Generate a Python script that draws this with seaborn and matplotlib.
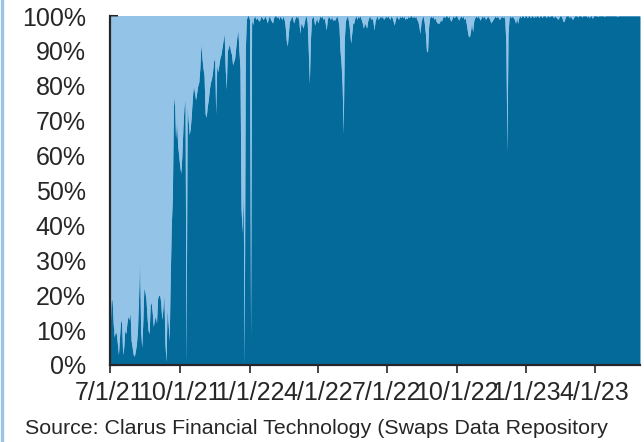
import numpy as np
import pandas as pd
import matplotlib
matplotlib.use("Agg")
import matplotlib.pyplot as plt
from matplotlib.lines import Line2D
import seaborn as sns

# Share (%) of the dark series, read per ~business day, one list per quarter
share_q3_2021 = [8, 18, 19, 12, 8, 9.5, 9, 6, 3, 8, 13, 12, 3, 5, 10, 9, 12, 14, 13, 15,
                 7, 5, 3, 2.5, 4, 6, 10, 19, 30, 10, 5, 12, 22, 21, 19, 14, 10, 9, 17, 18,
                 15, 11, 13, 14, 12, 19, 20, 20, 18, 13, 16, 20, 6, 1, 16, 12, 7, 25, 40, 48,
                 74, 77, 65, 70, 63, 60]
share_q4_2021 = [57, 55, 60, 68, 74, 76, 0, 74, 70, 66, 68, 72, 77, 80, 78, 76, 78, 80, 81, 85,
                 92, 88, 85, 83, 72, 71, 74, 76, 79, 81, 82, 84, 87, 88, 72, 86, 84, 86, 88, 89,
                 91, 93, 95, 85, 79, 90, 91, 92, 90, 89, 86, 87, 88, 91, 94, 96, 90, 85, 45, 38,
                 50, 0, 90, 99, 100, 100]
share_q1_2022 = [99, 8, 99, 97.5, 99.5, 100, 99, 99.5, 99, 98.5, 99, 100, 99.5, 99, 99.5, 100,
                 99, 98, 99.5, 100, 99, 98.5, 98, 99.5, 100, 100, 99.5, 100, 99, 100, 99.5, 99,
                 100, 99, 97, 93, 91.4, 95, 98.5, 99, 100, 99.5, 98, 99, 100, 99.5, 100, 98.5,
                 95, 98, 97.5, 96.5, 98, 99.5, 100, 98, 90, 80.7, 93, 99, 100, 99.5, 97.4, 98.5,
                 99.5]
share_q2_2022 = [98, 99, 100, 99.5, 100, 99, 99.5, 98, 96, 99, 100, 99.5, 99, 100, 98.8, 99,
                 98.8, 99.5, 100, 99, 97, 90, 86.4, 80, 66.4, 93, 98.5, 99.5, 100, 98.5, 96, 92.2,
                 95, 98, 98, 99.5, 100, 99, 100, 99.5, 100, 99, 98, 96.5, 98, 97.5, 96.5, 98.5,
                 99.5, 100, 99, 99.5, 98.5, 96, 98.5, 99.5, 100, 99, 99.5, 100, 99.5, 100, 99,
                 99.5, 100]
share_q3_2022 = [99.5, 100, 99.5, 99, 100, 99.5, 98.5, 97.4, 99, 100, 99.5, 99, 100, 99.5, 100,
                 99.5, 100, 99, 99.5, 99.2, 100, 99.5, 100, 100, 99.5, 100, 99.5, 100, 99, 98.5,
                 97, 95, 98.5, 99.5, 100, 98, 95, 90, 89.7, 97, 99.5, 100, 99.5, 100, 99, 99.5,
                 98.5, 98, 98, 98, 99, 98.5, 99.5, 100, 99.5, 100, 100, 99.5, 100, 99, 98.5, 99.5,
                 100, 99.5, 100]
share_q4_2022 = [100, 99.5, 98.8, 99.5, 100, 99.5, 100, 99, 99.5, 98, 96, 94.3, 94, 95.5, 98,
                 95.5, 98.5, 99.5, 100, 99.5, 100, 99.5, 98.8, 99.5, 100, 99.5, 100, 99, 99.5,
                 100, 99.5, 99, 98, 98.5, 99, 99.5, 100, 99.5, 100, 99.5, 99, 99.5, 100, 99.5,
                 100, 99, 92, 61, 95, 99.5, 100, 99.5, 100, 99.5, 99, 97.9, 99.5, 97.9, 99.5, 100,
                 99.5, 100, 100, 99.5, 100]
share_q1_2023 = [100, 99.5, 100, 100, 99.5, 100, 100, 99.5, 100, 99.7, 100, 100, 99.5, 100, 100,
                 99.5, 100, 100, 100, 99.5, 100, 100, 99.7, 100, 100, 100, 99.5, 100, 99.7, 99.5,
                 99, 99.5, 100, 100, 99.5, 98.5, 98.4, 99.5, 100, 100, 100, 99.5, 100, 99.5, 99,
                 99.5, 100, 100, 100, 99.7, 100, 100, 100, 99.7, 100, 100, 100, 100, 99.7, 100,
                 99.5, 100, 100, 99.3, 100]
share_q2_2023 = [100, 100, 100, 99.8, 100, 100, 100, 100, 100, 99.8, 100, 100, 100, 100, 100,
                 100, 100, 100, 100, 100, 100, 99.8, 100, 100, 100, 100, 100, 100, 100, 100,
                 100, 100, 100, 100, 100, 100, 100, 100, 100, 100, 100, 100, 100]

quarter_starts = ["2021-07-01", "2021-10-01", "2022-01-01", "2022-04-01",
                  "2022-07-01", "2022-10-01", "2023-01-01", "2023-04-01"]
series_end = "2023-05-31"
tick_labels = ["7/1/21", "10/1/21", "1/1/22", "4/1/22", "7/1/22", "10/1/22", "1/1/23", "4/1/23"]
y_ticks = [0, 10, 20, 30, 40, 50, 60, 70, 80, 90, 100]
source_text = "Source: Clarus Financial Technology (Swaps Data Repository"

segments = [share_q3_2021, share_q4_2021, share_q1_2022, share_q2_2022,
            share_q3_2022, share_q4_2022, share_q1_2023, share_q2_2023]
bounds = [pd.Timestamp(b) for b in quarter_starts + [series_end]]
all_dates, all_vals = [], []
for k, seg in enumerate(segments):
    s, e = bounds[k], bounds[k + 1]
    if k < len(segments) - 1:
        d = pd.date_range(s, e, periods=len(seg) + 1)[:-1]
    else:
        d = pd.date_range(s, e, periods=len(seg))
    all_dates.extend(list(d))
    all_vals.extend(seg)

df = pd.DataFrame({"date": all_dates, "dark": all_vals})
df["light"] = 100 - df["dark"]

DARK = "#046a9a"
LIGHT = "#93c4e8"
AXC = "#262626"

sns.set_theme(style="white")
plt.rcParams["font.family"] = ["Liberation Sans", "DejaVu Sans"]

fig = plt.figure(figsize=(6.44, 4.42), dpi=100)
ax = fig.add_axes([110 / 644, 1 - 365 / 442, 530 / 644, 349 / 442])
ax.set_facecolor(LIGHT)
ax.stackplot(df["date"], df["dark"], df["light"], colors=[DARK, LIGHT], linewidth=0)

ax.set_xlim(bounds[0], bounds[-1])
ax.set_ylim(0, 100)
ax.set_yticks(y_ticks)
ax.set_yticklabels([f"{v}%" for v in y_ticks])
ax.set_xticks([pd.Timestamp(q) for q in quarter_starts])
ax.set_xticklabels(tick_labels)

sns.despine(ax=ax, top=True, right=True)
for sp in ["left", "bottom"]:
    ax.spines[sp].set_color(AXC)
    ax.spines[sp].set_linewidth(1.6)
ax.tick_params(axis="y", direction="in", length=6, width=1.5, color=AXC,
               pad=17.5, labelsize=18, labelcolor=AXC, left=True)
ax.tick_params(axis="x", direction="out", length=6, width=1.2, color=AXC,
               pad=5.5, labelsize=18, labelcolor=AXC, bottom=True)
ax.grid(False)

fig.add_artist(Line2D([1.5 / 644, 1.5 / 644], [0, 1], color="#9dc3e6", lw=2.4,
                      transform=fig.transFigure))
fig.text(25 / 644, 1 - 428 / 442, source_text, fontsize=15.4, color=AXC,
         ha="left", va="center")

fig.savefig("out.png", dpi=100)
